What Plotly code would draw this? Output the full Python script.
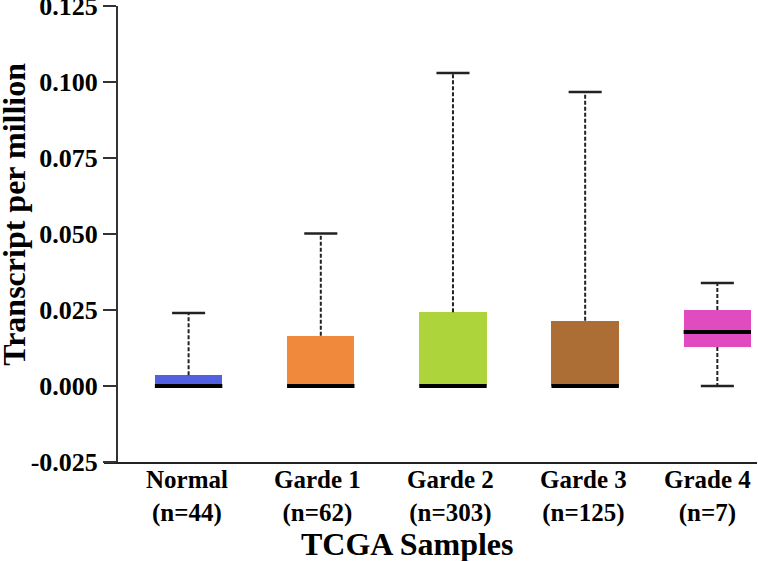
import plotly.graph_objects as go

categories = ["Normal", "Garde 1", "Garde 2", "Garde 3", "Grade 4"]
n_samples = [44, 62, 303, 125, 7]
lower_whisker = [0.0, 0.0, 0.0, 0.0, 0.0]
q1 = [0.0, 0.0, 0.0, 0.0, 0.0128]
median = [0.0, 0.0, 0.0, 0.0, 0.0178]
q3 = [0.0035, 0.0165, 0.0243, 0.0215, 0.0250]
upper_whisker = [0.0240, 0.0502, 0.1030, 0.0967, 0.0339]
colors = ["#5161DF", "#F0893B", "#ADD43B", "#AD6E35", "#E04CC0"]
y_ticks = [-0.025, 0.0, 0.025, 0.050, 0.075, 0.100, 0.125]

FONT = "Liberation Serif, Times New Roman, serif"
BOX_W = 0.51
CAP = 0.125
LABEL_XSHIFT = [-2, -3, -2, -2, -10]

xs = list(range(len(categories)))
tick_text = [f"{c}<br>({'n=' + str(n)})" for c, n in zip(categories, n_samples)]

fig = go.Figure()

# box bodies
fig.add_trace(go.Bar(
    x=xs, y=[b - a for a, b in zip(q1, q3)], base=q1, width=BOX_W,
    marker=dict(color=colors, line=dict(width=0)), hoverinfo="skip", showlegend=False))

# dashed whiskers
wx, wy = [], []
for i in xs:
    wx += [i, i, None, i, i, None]
    wy += [q3[i], upper_whisker[i], None, q1[i], lower_whisker[i], None]
fig.add_trace(go.Scatter(x=wx, y=wy, mode="lines",
                         line=dict(color="#222222", width=2, dash="4px,2px"),
                         hoverinfo="skip", showlegend=False))

# caps
cx, cy = [], []
for i in xs:
    cx += [i - CAP, i + CAP, None, i - CAP, i + CAP, None]
    cy += [upper_whisker[i], upper_whisker[i], None, lower_whisker[i], lower_whisker[i], None]
fig.add_trace(go.Scatter(x=cx, y=cy, mode="lines",
                         line=dict(color="#222222", width=2.5),
                         hoverinfo="skip", showlegend=False))

# medians
mx, my = [], []
for i in xs:
    mx += [i - BOX_W / 2, i + BOX_W / 2, None]
    my += [median[i], median[i], None]
fig.add_trace(go.Scatter(x=mx, y=my, mode="lines",
                         line=dict(color="#000000", width=4),
                         hoverinfo="skip", showlegend=False))

annotations = [
    dict(text=t, xref="x", yref="paper", x=i, y=0, xanchor="center", yanchor="top",
         yshift=-2, xshift=LABEL_XSHIFT[i], showarrow=False,
         font=dict(family=FONT, size=25, weight="bold", color="black"))
    for i, t in zip(xs, tick_text)
]
annotations += [
    dict(text="TCGA Samples", xref="paper", yref="paper", x=0.464, y=-0.18,
         xanchor="center", yanchor="middle", showarrow=False,
         font=dict(family=FONT, size=32, weight="bold", color="black")),
    dict(text="Transcript per million", xref="paper", yref="paper", x=-0.138, y=0.544,
         xanchor="center", yanchor="middle", showarrow=False, textangle=-90,
         font=dict(family=FONT, size=32, weight="bold", color="black")),
]

fig.update_layout(
    width=759, height=561,
    margin=dict(l=104, r=2, t=6, b=99),
    paper_bgcolor="white", plot_bgcolor="white",
    font=dict(family=FONT, color="black"),
    showlegend=False,
    bargap=0,
    xaxis=dict(
        range=[-0.64, 4.30], showticklabels=False,
        showline=True, linecolor="#222222", linewidth=2, ticks="",
        showgrid=False, zeroline=False, automargin=False,
    ),
    yaxis=dict(
        range=[-0.025, 0.125], tickmode="array", tickvals=y_ticks,
        ticktext=[f"{v:.3f}" for v in y_ticks],
        anchor="free", position=0.02, automargin=False,
        showline=True, linecolor="#333333", linewidth=2,
        ticks="outside", ticklen=13, tickwidth=2, tickcolor="#333333",
        showgrid=False, zeroline=False, ticklabeloverflow="allow",
        tickfont=dict(family=FONT, size=26, weight="bold", color="black"),
    ),
    annotations=annotations,
)

fig.write_html("out.html", config={"displayModeBar": False},
               post_script="document.body.style.margin='0';")
